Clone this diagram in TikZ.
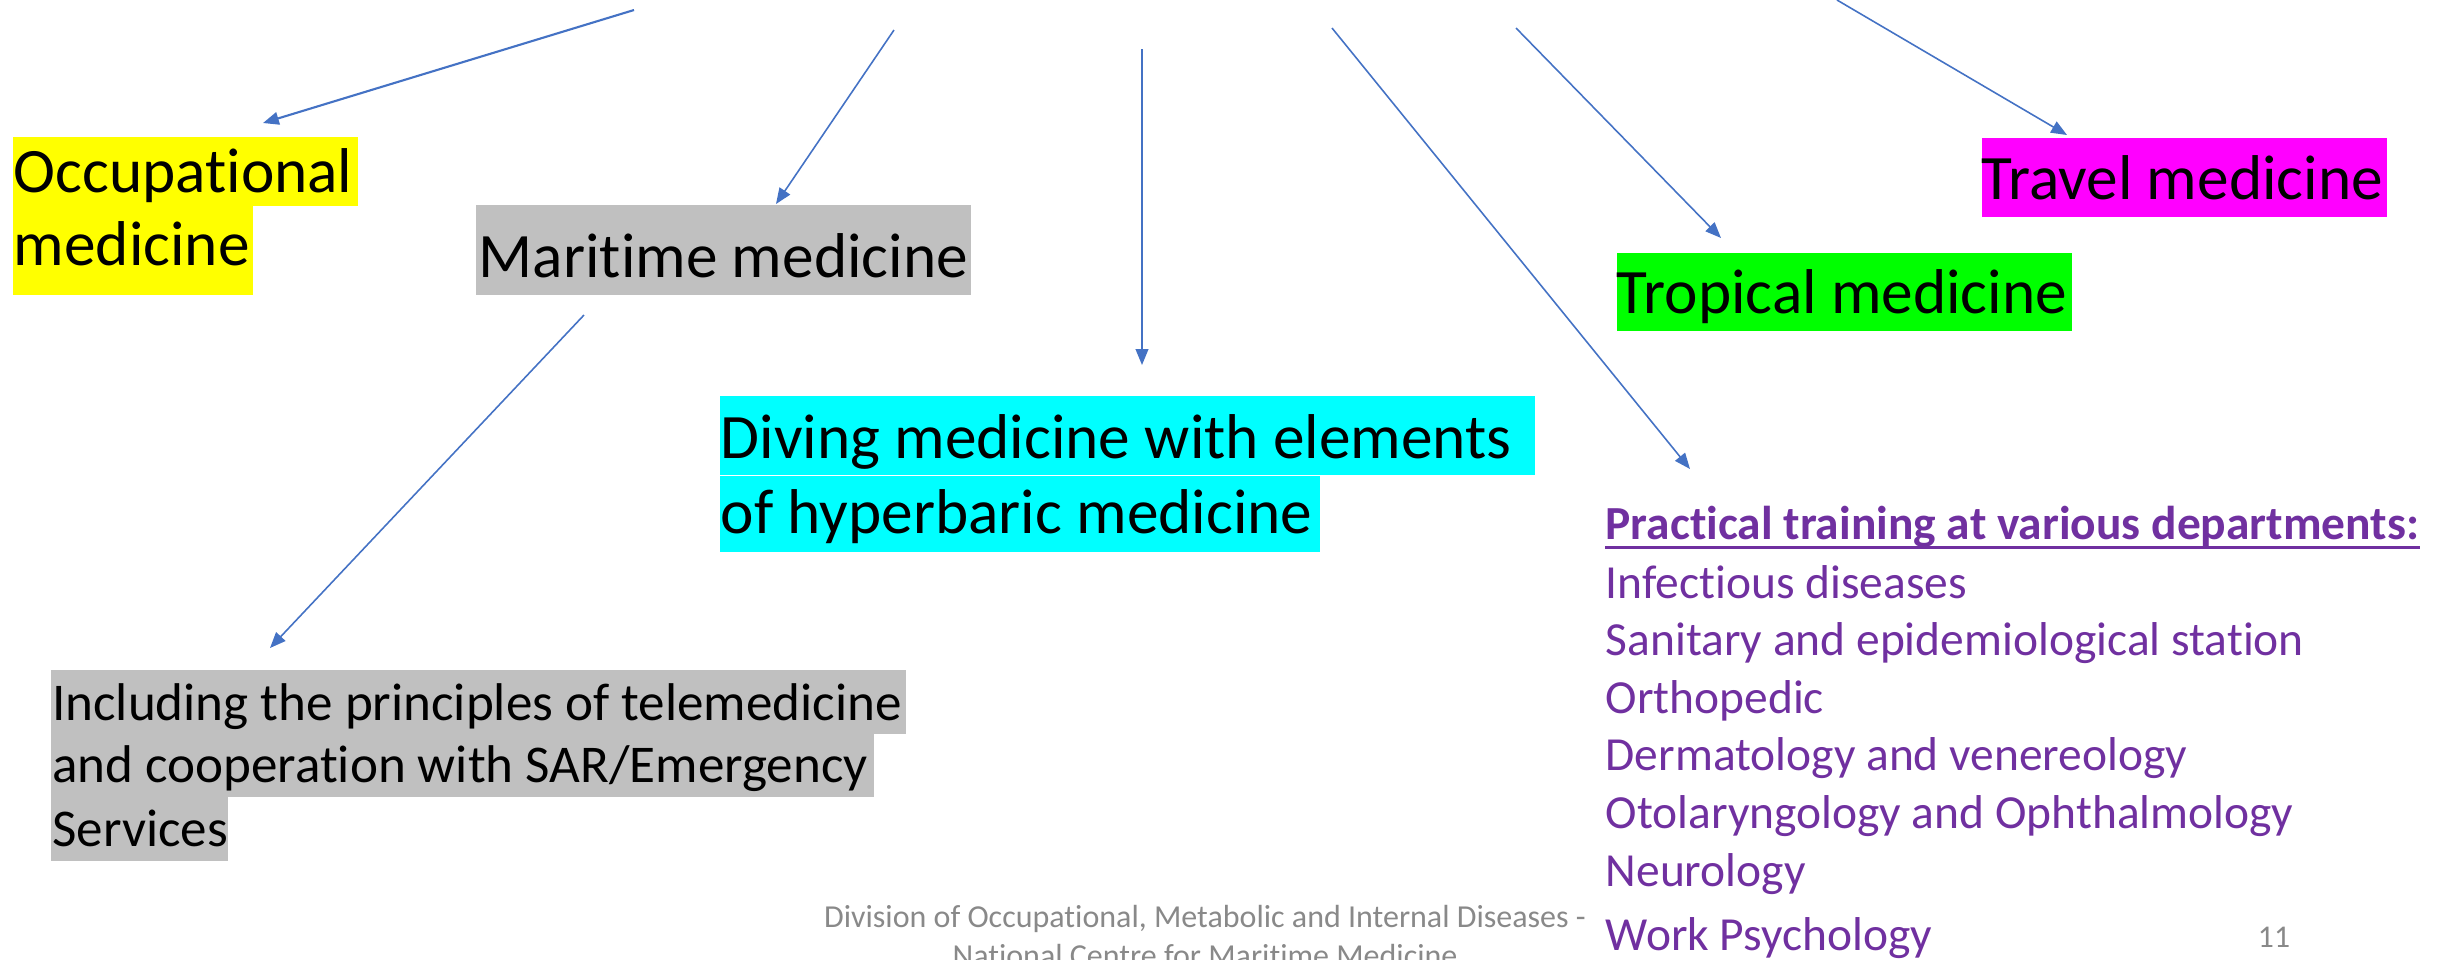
\documentclass[tikz,border=0pt]{standalone}
\usepackage{fontspec}
\setmainfont[Ligatures=NoCommon]{Carlito}
\usetikzlibrary{arrows.meta}
\definecolor{arrowblue}{HTML}{4472C4}
\definecolor{hlyellow}{HTML}{FFFF00}
\definecolor{hlgray}{HTML}{C0C0C0}
\definecolor{hlcyan}{HTML}{00FFFF}
\definecolor{hlgreen}{HTML}{00FF00}
\definecolor{hlmagenta}{HTML}{FF00FF}
\definecolor{deptpurple}{HTML}{7030A0}
\definecolor{footgray}{HTML}{898989}
\tikzset{
  arr/.style={draw=arrowblue, line width=0.45pt, -{Triangle[length=4.5pt,width=3.6pt]}},
  big/.style={anchor=base west, inner sep=0pt, font=\fontsize{18}{22}\selectfont},
  mid/.style={anchor=base west, inner sep=0pt, font=\fontsize{15.1}{18}\selectfont},
  dept/.style={anchor=base west, inner sep=0pt, text=deptpurple, font=\fontsize{13.5}{16}\selectfont},
  foot/.style={anchor=base, inner sep=0pt, text=footgray, font=\fontsize{9.1}{11}\selectfont},
}
\begin{document}
\begin{tikzpicture}[x=0.01cm, y=-0.01cm]
\useasboundingbox (0,0) rectangle (2450,959);

% Occupational medicine
\node[big, fill=hlyellow, text height=0.55cm, text depth=0.14cm] (occ1) at (12,192)
  {\makebox[3.45cm][l]{\hspace{0.01cm}Occupational}};
\node[big, fill=hlyellow, text height=0.59cm, text depth=0.30cm] (occ2) at (12,265)
  {\makebox[2.40cm][l]{\hspace{0.01cm}medicine}};

% Maritime medicine
\node[big, fill=hlgray, text height=0.72cm, text depth=0.18cm] (mar) at (475,277)
  {\makebox[4.95cm][c]{Maritime medicine}};

% Diving medicine
\node[big, fill=hlcyan, text height=0.62cm, text depth=0.17cm] (div1) at (719,458)
  {\makebox[8.15cm][l]{\hspace{0.01cm}Diving medicine with elements}};
\node[big, fill=hlcyan, text height=0.57cm, text depth=0.19cm] (div2) at (719,533)
  {\makebox[6.00cm][l]{\hspace{0.01cm}of hyperbaric medicine}};

% Tropical medicine
\node[big, fill=hlgreen, text height=0.60cm, text depth=0.18cm] (trop) at (1616,313)
  {\makebox[4.55cm][l]{Tropical medicine}};

% Travel medicine
\node[big, fill=hlmagenta, text height=0.61cm, text depth=0.18cm] (trav) at (1981,199)
  {\makebox[4.05cm][l]{Travel medicine}};

% Including ...
\node[mid, fill=hlgray, text height=0.50cm, text depth=0.14cm] (inc1) at (50,720)
  {\makebox[8.55cm][l]{\hspace{0.015cm}Including the principles of telemedicine}};
\node[mid, fill=hlgray, text height=0.48cm, text depth=0.15cm] (inc2) at (50,782)
  {\makebox[8.23cm][l]{\hspace{0.015cm}and cooperation with SAR/Emergency}};
\node[mid, fill=hlgray, text height=0.49cm, text depth=0.15cm] (inc3) at (50,846)
  {\makebox[1.77cm][l]{\hspace{0.015cm}Services}};

% Practical training list
\node[dept, font=\fontsize{13.5}{16}\selectfont\bfseries] (hdr) at (1605,539)
  {Practical training at various departments:};
\draw[deptpurple, line width=0.03cm] ([yshift=-0.08cm]hdr.base west) -- ([yshift=-0.08cm]hdr.base east);
\node[dept] (d1) at (1605,598) {Infectious diseases};
\node[dept] (d2) at (1605,655) {Sanitary and epidemiological station};
\node[dept] (d3) at (1605,713) {Orthopedic};
\node[dept] (d4) at (1605,770) {Dermatology and venereology};
\node[dept] (d5) at (1605,828) {Otolaryngology and Ophthalmology};
\node[dept] (d6) at (1605,886) {Neurology};
\node[dept] (d7) at (1605,950) {Work Psychology};

% Footer
\node[foot] (f1) at (1205,927) {Division of Occupational, Metabolic and Internal Diseases -};
\node[foot] (f2) at (1205,966) {National Centre for Maritime Medicine};
\node[foot, font=\fontsize{9}{11}\selectfont] (pg) at (2274,947) {11};

% Arrows
\coordinate (a1s) at (634,10);   \coordinate (a1e) at (263,123);
\coordinate (a2s) at (894,30);   \coordinate (a2e) at (776,204);
\coordinate (a3s) at (1142,49);  \coordinate (a3e) at (1142,365);
\coordinate (a4s) at (1332,28);  \coordinate (a4e) at (1690,469);
\coordinate (a5s) at (1516,28);  \coordinate (a5e) at (1721,238);
\coordinate (a6s) at (1837,0);   \coordinate (a6e) at (2067,135);
\coordinate (a7s) at (584,315);  \coordinate (a7e) at (270,648);

\draw[arr, line width=0.6pt] (a1s) -- (a1e);
\draw[arr] (a2s) -- (a2e);
\draw[arr] (a3s) -- (a3e);
\draw[arr] (a4s) -- (a4e);
\draw[arr] (a5s) -- (a5e);
\draw[arr] (a6s) -- (a6e);
\draw[arr] (a7s) -- (a7e);
\end{tikzpicture}
\end{document}
